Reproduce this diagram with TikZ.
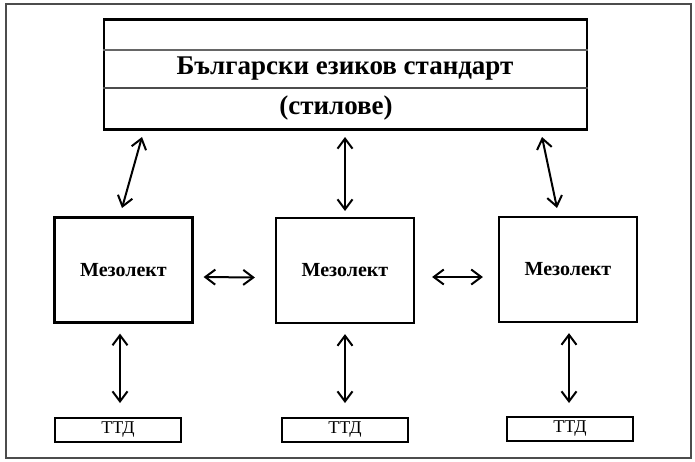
\documentclass[tikz,border=0pt]{standalone}
\usepackage{fontspec}
\setmainfont{Liberation Serif}
\usetikzlibrary{arrows.meta}
\tikzset{
  box/.style={draw=black, line width=2.2pt, minimum width=138pt, minimum height=105pt, inner sep=0pt, font=\bfseries\fontsize{20}{24}\selectfont},
  tbox/.style={draw=black, line width=2pt, minimum width=126pt, minimum height=24pt, inner sep=0pt, font=\fontsize{18}{20}\selectfont},
  arr/.style={line width=2pt, {Straight Barb[length=10pt,width=15pt]}-{Straight Barb[length=10pt,width=15pt]}},
}
\begin{document}
\begin{tikzpicture}[x=1pt,y=-1pt]
\useasboundingbox (0,0) rectangle (695,461);
\draw[draw=black!70, line width=1.5pt] (6,4) rectangle (691,458);
% top box
\node[draw=black, line width=2.2pt, minimum width=483pt, minimum height=110pt, inner sep=0pt] (top) at (345.5,74.5) {};
\draw[black!60, line width=1.5pt] (top.west |- 0,50) -- (top.east |- 0,50);
\draw[black!70, line width=1.5pt] (top.west |- 0,88) -- (top.east |- 0,88);
\node[font=\bfseries\fontsize{27}{30}\selectfont] (t0) at (345,69) {Български езиков стандарт};
\node[font=\bfseries\fontsize{27}{30}\selectfont] (t00) at (336,108) {(стилове)};
% mesolekt boxes
\node[box] (m1) at (123.5,270) {Мезолект};
\node[box] (m2) at (345,270.5) {Мезолект};
\node[box] (m3) at (568,269.5) {Мезолект};
% TTD boxes
\node[tbox] (d1) at (118,430) {ТТД};
\node[tbox] (d2) at (345,430) {ТТД};
\node[tbox] (d3) at (570,429) {ТТД};
% arrows top
\coordinate (a1s) at (142,137); \coordinate (a1e) at (122,208);
\coordinate (a2s) at (345,137); \coordinate (a2e) at (345,211);
\coordinate (a3s) at (542,137); \coordinate (a3e) at (557,208);
\draw[arr] (a1s) -- (a1e);
\draw[arr] (a2s) -- (a2e);
\draw[arr] (a3s) -- (a3e);
% horizontal arrows
\draw[arr] ([shift={(10,7)}]m1.east) -- ([shift={(-20,7)}]m2.west);
\draw[arr] ([shift={(17,6.5)}]m2.east) -- ([shift={(-15,7.5)}]m3.west);
% lower arrows
\draw[arr] ([shift={(-3.5,10)}]m1.south) -- ([shift={(2,-14)}]d1.north);
\draw[arr] ([shift={(0,10)}]m2.south) -- ([shift={(0,-14)}]d2.north);
\draw[arr] ([shift={(1,10)}]m3.south) -- ([shift={(-1,-13)}]d3.north);
\end{tikzpicture}
\end{document}
